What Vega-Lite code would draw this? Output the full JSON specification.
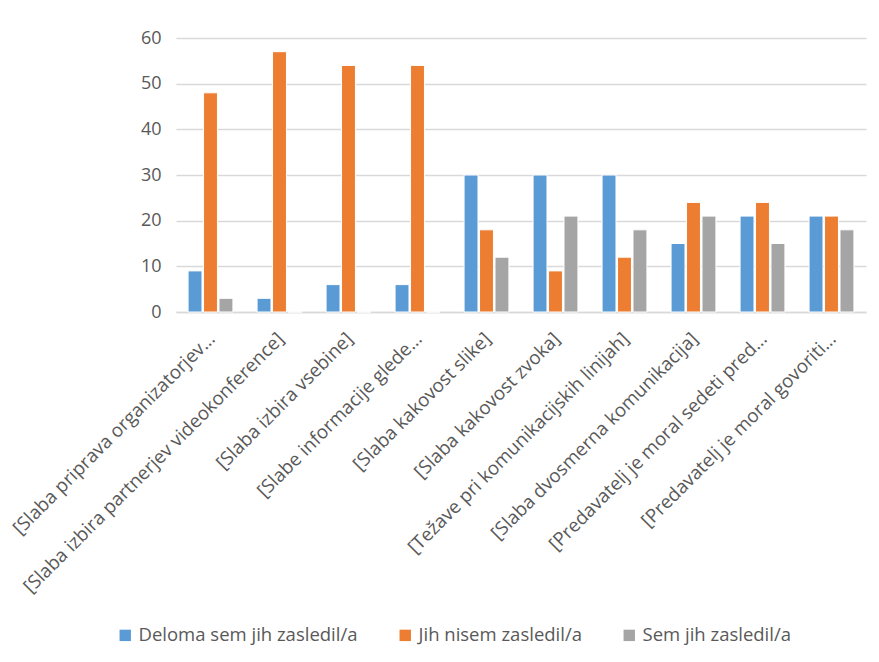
{
  "$schema": "https://vega.github.io/schema/vega-lite/v6.json",
  "width": 690,
  "height": 274,
  "autosize": {"type": "none"},
  "padding": {"left": 176, "top": 38, "right": 13, "bottom": 350},
  "background": "white",
  "data": {
    "values": [
      {"cat": "[Slaba priprava organizatorjev…", "series": "Deloma sem jih zasledil/a", "value": 9},
      {"cat": "[Slaba priprava organizatorjev…", "series": "Jih nisem zasledil/a", "value": 48},
      {"cat": "[Slaba priprava organizatorjev…", "series": "Sem jih zasledil/a", "value": 3},
      {"cat": "[Slaba izbira partnerjev videokonference]", "series": "Deloma sem jih zasledil/a", "value": 3},
      {"cat": "[Slaba izbira partnerjev videokonference]", "series": "Jih nisem zasledil/a", "value": 57},
      {"cat": "[Slaba izbira partnerjev videokonference]", "series": "Sem jih zasledil/a", "value": 0},
      {"cat": "[Slaba izbira vsebine]", "series": "Deloma sem jih zasledil/a", "value": 6},
      {"cat": "[Slaba izbira vsebine]", "series": "Jih nisem zasledil/a", "value": 54},
      {"cat": "[Slaba izbira vsebine]", "series": "Sem jih zasledil/a", "value": 0},
      {"cat": "[Slabe informacije glede…", "series": "Deloma sem jih zasledil/a", "value": 6},
      {"cat": "[Slabe informacije glede…", "series": "Jih nisem zasledil/a", "value": 54},
      {"cat": "[Slabe informacije glede…", "series": "Sem jih zasledil/a", "value": 0},
      {"cat": "[Slaba kakovost slike]", "series": "Deloma sem jih zasledil/a", "value": 30},
      {"cat": "[Slaba kakovost slike]", "series": "Jih nisem zasledil/a", "value": 18},
      {"cat": "[Slaba kakovost slike]", "series": "Sem jih zasledil/a", "value": 12},
      {"cat": "[Slaba kakovost zvoka]", "series": "Deloma sem jih zasledil/a", "value": 30},
      {"cat": "[Slaba kakovost zvoka]", "series": "Jih nisem zasledil/a", "value": 9},
      {"cat": "[Slaba kakovost zvoka]", "series": "Sem jih zasledil/a", "value": 21},
      {"cat": "[Težave pri komunikacijskih linijah]", "series": "Deloma sem jih zasledil/a", "value": 30},
      {"cat": "[Težave pri komunikacijskih linijah]", "series": "Jih nisem zasledil/a", "value": 12},
      {"cat": "[Težave pri komunikacijskih linijah]", "series": "Sem jih zasledil/a", "value": 18},
      {"cat": "[Slaba dvosmerna komunikacija]", "series": "Deloma sem jih zasledil/a", "value": 15},
      {"cat": "[Slaba dvosmerna komunikacija]", "series": "Jih nisem zasledil/a", "value": 24},
      {"cat": "[Slaba dvosmerna komunikacija]", "series": "Sem jih zasledil/a", "value": 21},
      {"cat": "[Predavatelj je moral sedeti pred…", "series": "Deloma sem jih zasledil/a", "value": 21},
      {"cat": "[Predavatelj je moral sedeti pred…", "series": "Jih nisem zasledil/a", "value": 24},
      {"cat": "[Predavatelj je moral sedeti pred…", "series": "Sem jih zasledil/a", "value": 15},
      {"cat": "[Predavatelj je moral govoriti…", "series": "Deloma sem jih zasledil/a", "value": 21},
      {"cat": "[Predavatelj je moral govoriti…", "series": "Jih nisem zasledil/a", "value": 21},
      {"cat": "[Predavatelj je moral govoriti…", "series": "Sem jih zasledil/a", "value": 18}
    ]
  },
  "mark": {"type": "bar", "stroke": "white", "strokeWidth": 1},
  "encoding": {
    "x": {
      "field": "cat",
      "type": "nominal",
      "sort": null,
      "title": null,
      "scale": {"paddingInner": 0.35, "paddingOuter": 0.175},
      "axis": {
        "labelAngle": -45,
        "labelFont": "Open Sans",
        "labelFontSize": 18.8,
        "labelColor": "#595959",
        "labelLimit": 500,
        "labelPadding": 17,
        "labelOffset": -5,
        "ticks": false,
        "domainColor": "#d9d9d9",
        "domainWidth": 1.5,
        "grid": false
      }
    },
    "xOffset": {
      "field": "series",
      "type": "nominal",
      "scale": {"paddingInner": 0.1}
    },
    "y": {
      "field": "value",
      "type": "quantitative",
      "title": null,
      "scale": {"domain": [0, 60]},
      "axis": {
        "values": [0, 10, 20, 30, 40, 50, 60],
        "domain": false,
        "ticks": false,
        "labelFont": "Open Sans",
        "labelFontSize": 18,
        "labelColor": "#595959",
        "labelPadding": 15,
        "gridColor": "#d9d9d9",
        "gridWidth": 1.5
      }
    },
    "color": {
      "field": "series",
      "type": "nominal",
      "title": null,
      "scale": {
        "domain": ["Deloma sem jih zasledil/a", "Jih nisem zasledil/a", "Sem jih zasledil/a"],
        "range": ["#5B9BD5", "#ED7D31", "#A5A5A5"]
      },
      "legend": {
        "orient": "none",
        "legendX": -60,
        "legendY": 588,
        "direction": "horizontal",
        "columns": 3,
        "columnPadding": 38,
        "symbolType": "square",
        "symbolSize": 130,
        "symbolStrokeWidth": 0,
        "labelFont": "Open Sans",
        "labelFontSize": 18.5,
        "labelColor": "#595959",
        "labelLimit": 400
      }
    }
  },
  "config": {"view": {"stroke": null}}
}
